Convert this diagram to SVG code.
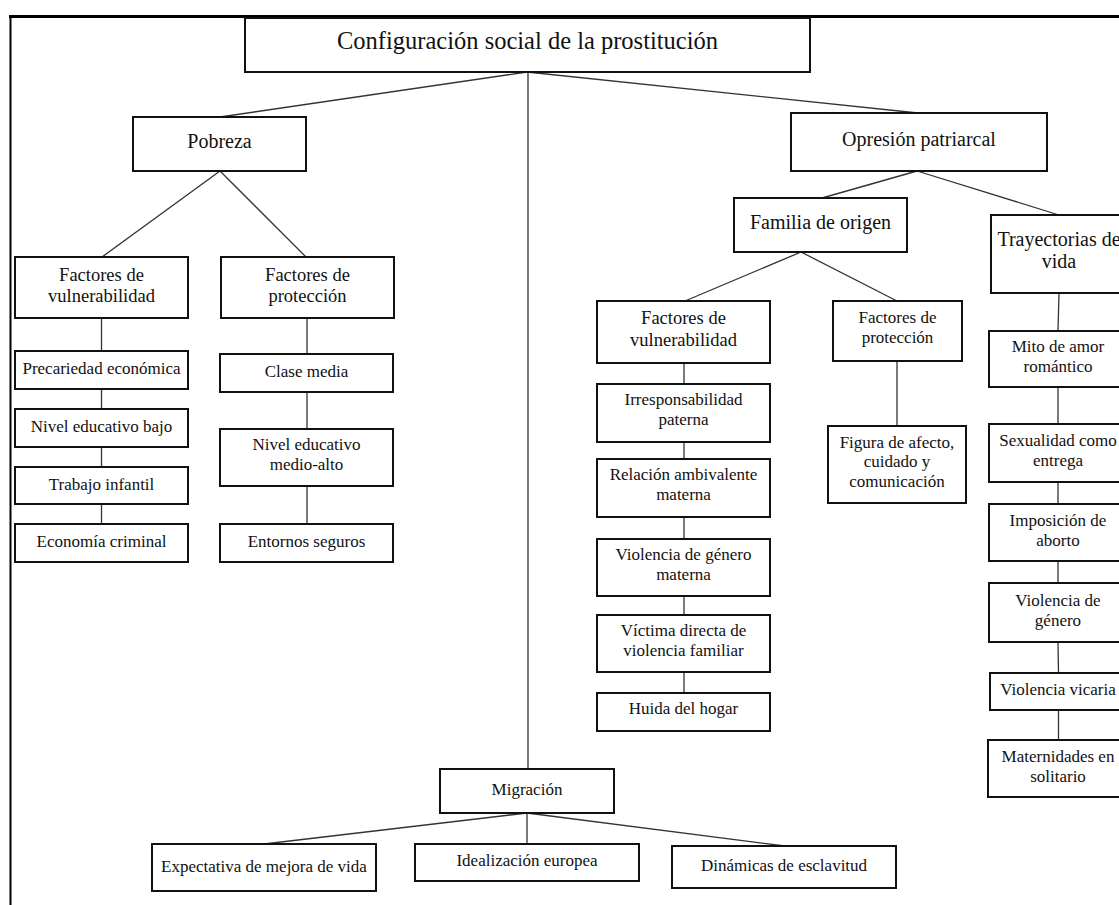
<svg xmlns="http://www.w3.org/2000/svg" width="1119" height="905" viewBox="0 0 1119 905">
<style>
rect{fill:#fff;stroke:#111;stroke-width:2}
text{font-family:"Liberation Serif","Times New Roman",serif;fill:#111;text-anchor:middle}
.t{font-size:24.5px}
.h{font-size:20px}
.m{font-size:18.5px}
.s{font-size:17px}
#connectors line{stroke:#333;stroke-width:1.3}
</style>
<rect x="0" y="0" width="1119" height="905" style="fill:#fff;stroke:none"/>
<g id="frame">
<line x1="9" y1="16.5" x2="1119" y2="16.5" stroke="#000" stroke-width="3"/>
<line x1="10.5" y1="15" x2="10.5" y2="905" stroke="#000" stroke-width="2"/>
</g>
<g id="connectors">
<line x1="527" y1="72" x2="220" y2="117"/>
<line x1="527" y1="72" x2="918" y2="113"/>
<line x1="528" y1="72" x2="528" y2="769"/>
<line x1="220" y1="171" x2="102" y2="257"/>
<line x1="220" y1="171" x2="306" y2="257"/>
<line x1="101.5" y1="318" x2="101.5" y2="351"/>
<line x1="101.5" y1="389" x2="101.5" y2="409"/>
<line x1="101.5" y1="447" x2="101.5" y2="467"/>
<line x1="101.5" y1="504" x2="101.5" y2="524"/>
<line x1="307" y1="318" x2="307" y2="354"/>
<line x1="307" y1="392" x2="307" y2="429"/>
<line x1="307" y1="486" x2="307" y2="524"/>
<line x1="917" y1="171" x2="822" y2="198"/>
<line x1="917" y1="171" x2="1059" y2="215"/>
<line x1="801" y1="252" x2="685" y2="301"/>
<line x1="801" y1="252" x2="897" y2="301"/>
<line x1="684" y1="363" x2="684" y2="384"/>
<line x1="684" y1="442" x2="684" y2="459"/>
<line x1="684" y1="517" x2="684" y2="539"/>
<line x1="684" y1="596" x2="684" y2="615"/>
<line x1="684" y1="672" x2="684" y2="693"/>
<line x1="897" y1="361" x2="897" y2="426"/>
<line x1="1059" y1="293" x2="1058" y2="331"/>
<line x1="1058" y1="387" x2="1058" y2="424"/>
<line x1="1058" y1="482" x2="1058" y2="504"/>
<line x1="1058" y1="561" x2="1058" y2="583"/>
<line x1="1058" y1="642" x2="1058.5" y2="673"/>
<line x1="1058.5" y1="710" x2="1058.5" y2="740"/>
<line x1="527" y1="813" x2="264" y2="844"/>
<line x1="527" y1="813" x2="527" y2="844"/>
<line x1="527" y1="813" x2="785" y2="846"/>
</g>
<g id="n-title"><rect x="245" y="18" width="565" height="54"/><text class="t" x="527.5" y="49">Configuración social de la prostitución</text></g>
<g id="n-pobreza"><rect x="133" y="117" width="173" height="54"/><text class="h" x="219.5" y="148">Pobreza</text></g>
<g id="n-opresion"><rect x="791" y="113" width="256" height="58"/><text class="h" x="919" y="146">Opresión patriarcal</text></g>
<g id="n-fv1"><rect x="15" y="257" width="173" height="61"/><text class="m" x="101.5" y="281">Factores de</text><text class="m" x="101.5" y="302">vulnerabilidad</text></g>
<g id="n-fp1"><rect x="221" y="257" width="173" height="61"/><text class="m" x="307.5" y="281">Factores de</text><text class="m" x="307.5" y="302">protección</text></g>
<g id="n-precariedad"><rect x="15" y="351" width="173" height="38"/><text class="s" x="101.5" y="374">Precariedad económica</text></g>
<g id="n-nivelbajo"><rect x="15" y="409" width="173" height="38"/><text class="s" x="101.5" y="432">Nivel educativo bajo</text></g>
<g id="n-trabajo"><rect x="15" y="467" width="173" height="37"/><text class="s" x="101.5" y="490">Trabajo infantil</text></g>
<g id="n-economia"><rect x="15" y="524" width="173" height="38"/><text class="s" x="101.5" y="547">Economía criminal</text></g>
<g id="n-clase"><rect x="220" y="354" width="173" height="38"/><text class="s" x="306.5" y="377">Clase media</text></g>
<g id="n-nivelalto"><rect x="220" y="429" width="173" height="57"/><text class="s" x="306.5" y="450">Nivel educativo</text><text class="s" x="306.5" y="470">medio-alto</text></g>
<g id="n-entornos"><rect x="220" y="524" width="173" height="38"/><text class="s" x="306.5" y="547">Entornos seguros</text></g>
<g id="n-familia"><rect x="734" y="198" width="173" height="54"/><text class="h" x="820.5" y="229">Familia de origen</text></g>
<g id="n-trayectorias"><rect x="991" y="215" width="136" height="78"/><text class="h" x="1059" y="246">Trayectorias de</text><text class="h" x="1059" y="268">vida</text></g>
<g id="n-fv2"><rect x="597" y="301" width="173" height="62"/><text class="m" x="683.5" y="324">Factores de</text><text class="m" x="683.5" y="346">vulnerabilidad</text></g>
<g id="n-fp2"><rect x="833" y="301" width="129" height="60"/><text class="s" x="897.5" y="323">Factores de</text><text class="s" x="897.5" y="343">protección</text></g>
<g id="n-irresp"><rect x="597" y="384" width="173" height="58"/><text class="s" x="683.5" y="405">Irresponsabilidad</text><text class="s" x="683.5" y="425">paterna</text></g>
<g id="n-relacion"><rect x="597" y="459" width="173" height="58"/><text class="s" x="683.5" y="480">Relación ambivalente</text><text class="s" x="683.5" y="500">materna</text></g>
<g id="n-vgmaterna"><rect x="597" y="539" width="173" height="57"/><text class="s" x="683.5" y="560">Violencia de género</text><text class="s" x="683.5" y="580">materna</text></g>
<g id="n-victima"><rect x="597" y="615" width="173" height="57"/><text class="s" x="683.5" y="636">Víctima directa de</text><text class="s" x="683.5" y="656">violencia familiar</text></g>
<g id="n-huida"><rect x="597" y="693" width="173" height="38"/><text class="s" x="683.5" y="714">Huida del hogar</text></g>
<g id="n-figura"><rect x="828" y="426" width="138" height="77"/><text class="s" x="897" y="448">Figura de afecto,</text><text class="s" x="897" y="467">cuidado y</text><text class="s" x="897" y="487">comunicación</text></g>
<g id="n-mito"><rect x="989" y="331" width="138" height="56"/><text class="s" x="1058" y="352">Mito de amor</text><text class="s" x="1058" y="372">romántico</text></g>
<g id="n-sexualidad"><rect x="989" y="424" width="138" height="58"/><text class="s" x="1058" y="446">Sexualidad como</text><text class="s" x="1058" y="466">entrega</text></g>
<g id="n-imposicion"><rect x="989" y="504" width="138" height="57"/><text class="s" x="1058" y="526">Imposición de</text><text class="s" x="1058" y="546">aborto</text></g>
<g id="n-violgenero"><rect x="989" y="583" width="138" height="59"/><text class="s" x="1058" y="606">Violencia de</text><text class="s" x="1058" y="626">género</text></g>
<g id="n-vicaria"><rect x="990" y="673" width="137" height="37"/><text class="s" x="1058" y="695">Violencia vicaria</text></g>
<g id="n-maternidades"><rect x="988" y="740" width="139" height="57"/><text class="s" x="1058" y="762">Maternidades en</text><text class="s" x="1058" y="782">solitario</text></g>
<g id="n-migracion"><rect x="440" y="769" width="174" height="44"/><text class="s" x="527" y="795">Migración</text></g>
<g id="n-expectativa"><rect x="152" y="844" width="224" height="47"/><text class="s" x="264" y="872">Expectativa de mejora de vida</text></g>
<g id="n-idealizacion"><rect x="415" y="844" width="224" height="37"/><text class="s" x="527" y="866">Idealización europea</text></g>
<g id="n-dinamicas"><rect x="672" y="846" width="224" height="42"/><text class="s" x="784" y="871">Dinámicas de esclavitud</text></g>
</svg>
